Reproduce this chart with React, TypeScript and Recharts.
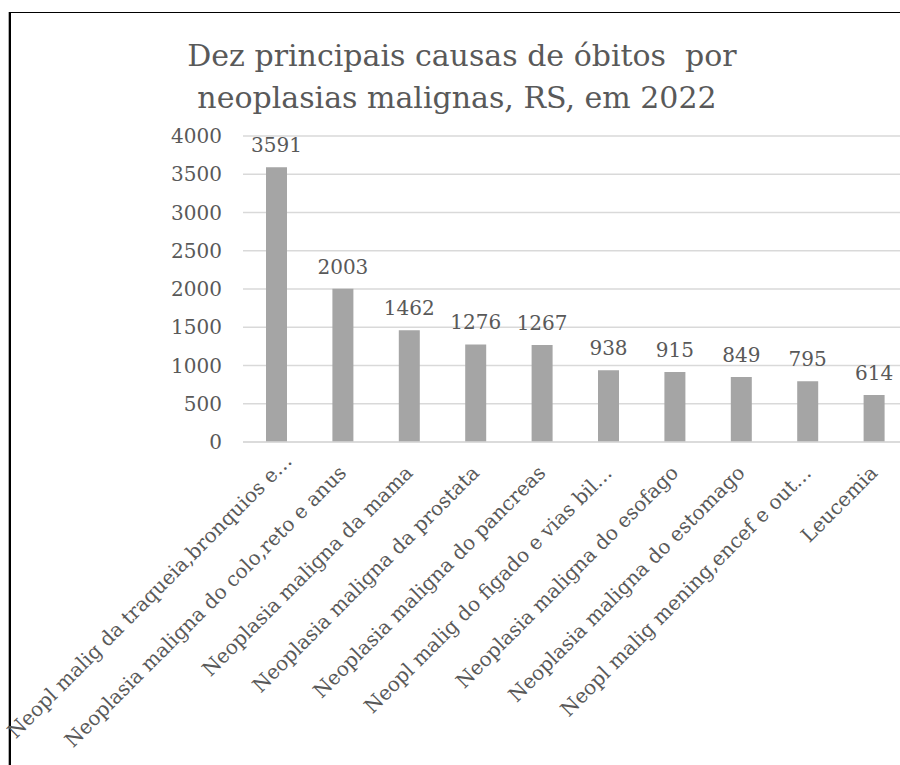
import React from "react";
import { BarChart, Bar, XAxis, YAxis, CartesianGrid, LabelList } from "recharts";

const categories = [
  "Neopl malig da traqueia,bronquios e…",
  "Neoplasia maligna do colo,reto e anus",
  "Neoplasia maligna da mama",
  "Neoplasia maligna da prostata",
  "Neoplasia maligna do pancreas",
  "Neopl malig do figado e vias bil…",
  "Neoplasia maligna do esofago",
  "Neoplasia maligna do estomago",
  "Neopl malig mening,encef e out…",
  "Leucemia",
];
const deaths = [3591, 2003, 1462, 1276, 1267, 938, 915, 849, 795, 614];
const yTicks = [0, 500, 1000, 1500, 2000, 2500, 3000, 3500, 4000];
const titleLines = ["Dez principais causas de óbitos  por", "neoplasias malignas, RS, em 2022"];

const data = categories.map((name, i) => ({ name, value: deaths[i] }));

const FONT = "'DejaVu Serif', serif";
const TEXT = "#595959";

const XTick = (props: any) => {
  const { x, y, payload, index } = props;
  const nudge = index === 0 ? 12 : 0;
  return (
    <text
      transform={`translate(${x + 5 + nudge},${y + 32 - nudge}) rotate(-45)`}
      textAnchor="end"
      fontSize={20}
      fontFamily={FONT}
      fill={TEXT}
    >
      {payload.value}
    </text>
  );
};

export default function App() {
  return (
    <div
      style={{
        position: "fixed",
        left: 0,
        top: 0,
        width: 900,
        height: 765,
        overflow: "hidden",
        background: "#fff",
      }}
    >
      <div
        style={{
          position: "absolute",
          left: 9,
          top: 12,
          width: 1000,
          height: 1000,
          borderTop: "1px solid #000",
          borderLeft: "2px solid #000",
          boxShadow: "-1px 0 0 #b0b0b0",
        }}
      />
      <div style={{ position: "absolute", left: 0, top: 0 }}>
        <BarChart
          width={950}
          height={765}
          data={data}
          margin={{ top: 136, right: 43, bottom: 0, left: 0 }}
        >
          <CartesianGrid vertical={false} stroke="#d9d9d9" strokeWidth={1.5} />
          <XAxis
            dataKey="name"
            interval={0}
            height={323}
            tickSize={0}
            tickMargin={0}
            tickLine={false}
            axisLine={{ stroke: "#d9d9d9", strokeWidth: 1.5 }}
            tick={<XTick />}
          />
          <YAxis
            width={243}
            domain={[0, 4000]}
            ticks={yTicks}
            interval={0}
            tickSize={0}
            tickMargin={21}
            tickLine={false}
            axisLine={false}
            tick={{ fontSize: 20, fontFamily: FONT, fill: TEXT }}
          />
          <Bar dataKey="value" fill="#a5a5a5" barSize={21} isAnimationActive={false}>
            <LabelList
              dataKey="value"
              position="top"
              offset={15}
              fontSize={20}
              fontFamily={FONT}
              fill={TEXT}
            />
          </Bar>
        </BarChart>
      </div>
      <svg
        width={900}
        height={140}
        style={{ position: "absolute", left: 0, top: 0, pointerEvents: "none" }}
      >
        <text
          x={462}
          y={66}
          textAnchor="middle"
          fontSize={30}
          fontFamily={FONT}
          fill={TEXT}
          style={{ whiteSpace: "pre" }}
        >
          {titleLines[0]}
        </text>
        <text
          x={457}
          y={108}
          textAnchor="middle"
          fontSize={30}
          fontFamily={FONT}
          fill={TEXT}
          style={{ whiteSpace: "pre" }}
        >
          {titleLines[1]}
        </text>
      </svg>
    </div>
  );
}
